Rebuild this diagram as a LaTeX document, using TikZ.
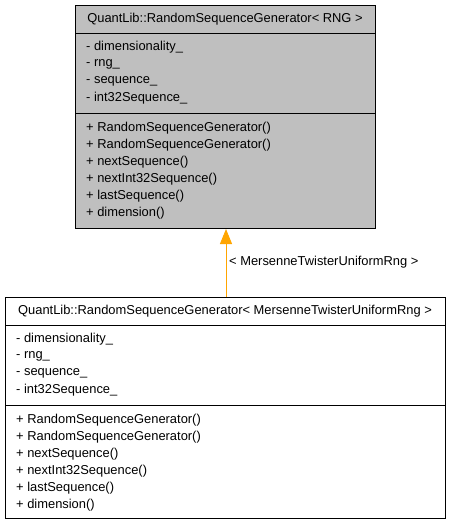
\documentclass[tikz,border=0pt]{standalone}
\usepackage{fontspec}
\setmainfont{Liberation Sans}
\usetikzlibrary{arrows.meta}
\definecolor{boxgray}{HTML}{BFBFBF}
\definecolor{inhorange}{HTML}{FFA500}
\begin{document}
\begin{tikzpicture}[x=1pt,y=-1pt,
  classbox/.style={draw=black,line width=1pt,rectangle,inner sep=0pt,anchor=north west},
  txt/.style={font=\fontsize{12.9}{15}\selectfont,inner sep=0pt,anchor=west},
  ttl/.style={font=\fontsize{12.9}{15}\selectfont,inner sep=0pt,anchor=center},
  sep/.style={draw=black,line width=1pt},
  inh/.style={draw=inhorange,line width=1pt,-{Triangle[length=15pt,width=12pt,fill=inhorange]}}]
\useasboundingbox (0,0) rectangle (451,525);
% top class
\node[classbox,fill=boxgray,minimum width=300pt,minimum height=223pt] (base) at (75,5) {};
\draw[sep] (75,33) -- (375,33);
\draw[sep] (75,113) -- (375,113);
\node[ttl] (bt) at (225,19) {QuantLib::RandomSequenceGenerator< RNG >};
\node[txt] (ba1) at (86,47) {- dimensionality\_};
\node[txt] (ba2) at (86,64) {- rng\_};
\node[txt] (ba3) at (86,81) {- sequence\_};
\node[txt] (ba4) at (86,98) {- int32Sequence\_};
\node[txt] (bm1) at (86,128) {+ RandomSequenceGenerator()};
\node[txt] (bm2) at (86,145) {+ RandomSequenceGenerator()};
\node[txt] (bm3) at (86,162) {+ nextSequence()};
\node[txt] (bm4) at (86,179) {+ nextInt32Sequence()};
\node[txt] (bm5) at (86,196) {+ lastSequence()};
\node[txt] (bm6) at (86,213) {+ dimension()};
% bottom class
\node[classbox,fill=white,minimum width=440pt,minimum height=221pt] (der) at (5,297) {};
\draw[sep] (5,325) -- (445,325);
\draw[sep] (5,405) -- (445,405);
\node[ttl] (dt) at (225,311) {QuantLib::RandomSequenceGenerator< MersenneTwisterUniformRng >};
\node[txt] (da1) at (16,339) {- dimensionality\_};
\node[txt] (da2) at (16,356) {- rng\_};
\node[txt] (da3) at (16,373) {- sequence\_};
\node[txt] (da4) at (16,390) {- int32Sequence\_};
\node[txt] (dm1) at (16,420) {+ RandomSequenceGenerator()};
\node[txt] (dm2) at (16,437) {+ RandomSequenceGenerator()};
\node[txt] (dm3) at (16,454) {+ nextSequence()};
\node[txt] (dm4) at (16,471) {+ nextInt32Sequence()};
\node[txt] (dm5) at (16,488) {+ lastSequence()};
\node[txt] (dm6) at (16,505) {+ dimension()};
% inheritance
\draw[inh] ([xshift=0.5pt]der.north) -- ([xshift=0.5pt]base.south);
\node[txt] (lbl) at (229,262) {< MersenneTwisterUniformRng >};
\end{tikzpicture}
\end{document}
